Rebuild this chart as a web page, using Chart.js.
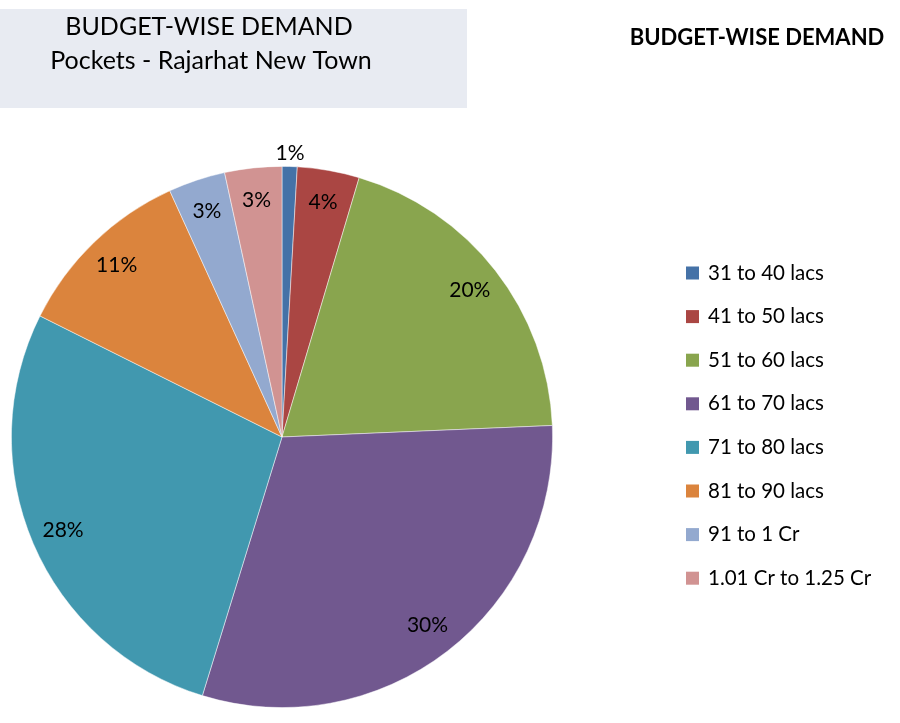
<!DOCTYPE html>
<html>
<head>
<meta charset="utf-8">
<script src="https://cdn.jsdelivr.net/npm/chart.js@4/dist/chart.umd.min.js"></script>
<style>
html,body{margin:0;padding:0;background:#fff;}
#wrap{position:relative;width:900px;height:723px;}
</style>
</head>
<body>
<div id="wrap"><canvas id="c" width="900" height="723"></canvas></div>
<script>
const categories = ["31 to 40 lacs","41 to 50 lacs","51 to 60 lacs","61 to 70 lacs","71 to 80 lacs","81 to 90 lacs","91 to 1 Cr","1.01 Cr to 1.25 Cr"];
const shares = [0.9, 3.7, 19.7, 30.4, 27.6, 10.8, 3.4, 3.4];
const colors = ["#4572A7","#AA4643","#89A54E","#71588F","#4198AF","#DB843D","#93A9CF","#D19392"];
const boxTitle = ["BUDGET-WISE DEMAND","Pockets - Rajarhat New Town"];
const sideTitle = "BUDGET-WISE DEMAND";

const FONT = "Lato, 'Open Sans', sans-serif";

const decor = {
  id:'decor',
  beforeDraw(chart){
    const ctx = chart.ctx;
    ctx.save();
    ctx.fillStyle = '#E8EBF2';
    ctx.fillRect(0, 9, 467, 99);
    ctx.fillStyle = '#000';
    ctx.textAlign = 'center';
    ctx.textBaseline = 'middle';
    ctx.font = '25px ' + FONT;
    ctx.fillText(boxTitle[0], 209, 27);
    ctx.fillText(boxTitle[1], 211, 61);
    ctx.font = 'bold 22px ' + FONT;
    ctx.fillText(sideTitle, 757, 38);
    ctx.restore();
  },
  afterDraw(chart){
    const ctx = chart.ctx;
    const meta = chart.getDatasetMeta(0);
    const data = chart.data.datasets[0].data;
    const total = data.reduce((a,b)=>a+b,0);
    ctx.save();
    ctx.fillStyle = '#000';
    ctx.textAlign = 'center';
    ctx.textBaseline = 'middle';
    ctx.font = '21px ' + FONT;
    meta.data.forEach((arc,i)=>{
      const p = arc.getProps(['x','y','startAngle','endAngle','outerRadius'], true);
      const mid = (p.startAngle + p.endAngle)/2;
      const pct = data[i]/total*100;
      const f = pct < 2 ? 1.05 : 0.88;
      const r = p.outerRadius * f;
      ctx.fillText(Math.round(pct) + '%', p.x + Math.cos(mid)*r, p.y + Math.sin(mid)*r);
    });
    // legend
    ctx.textAlign = 'left';
    ctx.font = '20.5px ' + FONT;
    chart.data.labels.forEach((lab,i)=>{
      const y = 273 + i*43.6;
      ctx.fillStyle = colors[i];
      ctx.fillRect(686, y-6.5, 13, 13);
      ctx.fillStyle = '#000';
      ctx.fillText(lab, 708, y);
    });
    ctx.restore();
  }
};

new Chart(document.getElementById('c'), {
  type:'pie',
  data:{
    labels: categories,
    datasets:[{data: shares, backgroundColor: colors, borderColor:'rgba(255,255,255,0.6)', borderWidth:0.8}]
  },
  options:{
    responsive:false,
    animation:false,
    layout:{padding:{left:11,top:166,right:347,bottom:15}},
    plugins:{legend:{display:false}, tooltip:{enabled:false}}
  },
  plugins:[decor]
});
</script>
</body>
</html>
